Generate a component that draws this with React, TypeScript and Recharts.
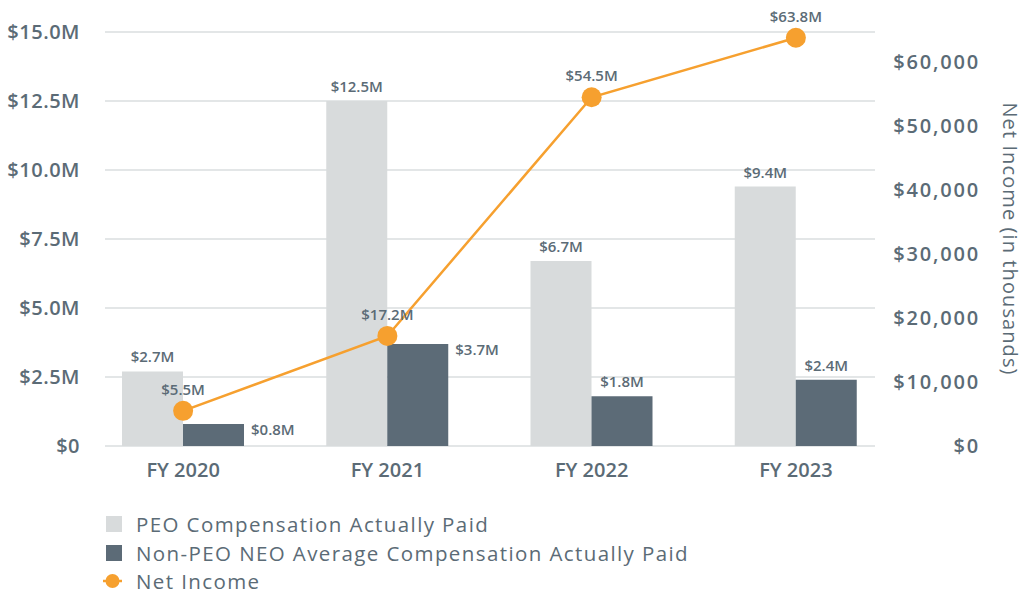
import React from "react";
import {
  ComposedChart,
  Bar,
  Line,
  XAxis,
  YAxis,
  CartesianGrid,
  LabelList,
  Legend,
} from "recharts";

const years = ["FY 2020", "FY 2021", "FY 2022", "FY 2023"];
const peoPaid = [2.7, 12.5, 6.7, 9.4];
const nonPeoPaid = [0.8, 3.7, 1.8, 2.4];
const netIncome = [5500, 17200, 54500, 63800];

const leftTicks = [0, 2.5, 5, 7.5, 10, 12.5, 15];
const rightTicks = [0, 10000, 20000, 30000, 40000, 50000, 60000];

const TEXT = "#5b6b76";
const LIGHT = "#d8dbdc";
const DARK = "#5c6b77";
const ORANGE = "#f6a02f";
const FONT = "'Open Sans', sans-serif";

const data = years.map((year, i) => ({
  year,
  peo: peoPaid[i],
  nonPeo: nonPeoPaid[i],
  income: netIncome[i],
}));

const fmtM = (v: number) => (v === 0 ? "$0" : `$${v.toFixed(1)}M`);
const fmtK = (v: number) => `$${v.toLocaleString("en-US")}`;

// Non-PEO labels: beside the bar for the first two years, above it for the rest
const SideLabel = (props: any) => {
  const { x, y, width, value, index } = props;
  const beside = index < 2;
  return (
    <text
      x={beside ? x + width + 7 : x + width / 2}
      y={beside ? y + 7 : y - 13}
      fill={TEXT}
      fontSize={15}
      fontWeight={600}
      fontFamily={FONT}
      textAnchor={beside ? "start" : "middle"}
      dominantBaseline="middle"
    >
      {fmtM(value)}
    </text>
  );
};

const RightAxisLabel = (props: any) => {
  const { viewBox } = props;
  const cx = viewBox.x + viewBox.width - 15;
  const cy = viewBox.y + viewBox.height / 2;
  return (
    <text
      x={cx}
      y={cy}
      transform={`rotate(90, ${cx}, ${cy})`}
      textAnchor="middle"
      dominantBaseline="middle"
      fill={TEXT}
      fontSize={20}
      letterSpacing={1.1}
      fontFamily={FONT}
    >
      Net Income (in thousands)
    </text>
  );
};

const legendItems = [
  { name: "PEO Compensation Actually Paid", kind: "light" },
  { name: "Non-PEO NEO Average Compensation Actually Paid", kind: "dark" },
  { name: "Net Income", kind: "line" },
];

const LegendContent = () => (
  <div style={{ height: 87, fontFamily: FONT }}>
    {legendItems.map((item) => (
      <div
        key={item.name}
        style={{
          display: "flex",
          alignItems: "center",
          height: 28.5,
          color: TEXT,
          fontSize: 20.5,
          letterSpacing: 1.4,
          whiteSpace: "nowrap",
        }}
      >
        <svg width={26} height={20} style={{ marginRight: 7 }}>
          {item.kind === "line" ? (
            <>
              <line x1={0} y1={10} x2={19} y2={10} stroke={ORANGE} strokeWidth={2.5} />
              <circle cx={9.5} cy={10} r={7} fill={ORANGE} />
            </>
          ) : (
            <rect
              x={3}
              y={2}
              width={16}
              height={16}
              fill={item.kind === "light" ? LIGHT : DARK}
            />
          )}
        </svg>
        <span>{item.name}</span>
      </div>
    ))}
  </div>
);

export default function App() {
  return (
    <div style={{ position: "absolute", left: 0, top: 0, width: 1023, height: 595, background: "#fff" }}>
      <ComposedChart
        width={1023}
        height={595}
        data={data}
        margin={{ top: 32, right: 0, bottom: 0, left: 0 }}
        barGap={0}
      >
        <CartesianGrid
          yAxisId="left"
          vertical={false}
          stroke="#e3e6e7"
          strokeWidth={2}
        />
        <XAxis
          dataKey="year"
          axisLine={false}
          tickLine={false}
          tickSize={0}
          tickMargin={17}
          height={62}
          padding={{ left: -24, right: -23 }}
          tick={{ fill: TEXT, fontSize: 20, fontWeight: 600, fontFamily: FONT }}
        />
        <YAxis
          yAxisId="left"
          domain={[0, 15]}
          ticks={leftTicks}
          tickFormatter={fmtM}
          axisLine={false}
          tickLine={false}
          tickSize={0}
          tickMargin={25}
          width={105}
          tick={{ fill: TEXT, fontSize: 20, fontWeight: 600, fontFamily: FONT, letterSpacing: 0.5 }}
        />
        <YAxis
          yAxisId="right"
          orientation="right"
          domain={[0, 64700]}
          ticks={rightTicks}
          tickFormatter={fmtK}
          axisLine={false}
          tickLine={false}
          tickSize={0}
          tickMargin={105}
          width={148}
          tick={{ fill: TEXT, fontSize: 20, fontWeight: 600, fontFamily: FONT, letterSpacing: 1.8, textAnchor: "end" }}
          label={<RightAxisLabel />}
        />
        <Bar
          yAxisId="left"
          dataKey="peo"
          name="PEO Compensation Actually Paid"
          fill={LIGHT}
          barSize={61}
          isAnimationActive={false}
        >
          <LabelList
            dataKey="peo"
            position="top"
            offset={9}
            formatter={(v: any) => fmtM(Number(v))}
            style={{ fill: TEXT, fontSize: 15, fontWeight: 600, fontFamily: FONT }}
          />
        </Bar>
        <Bar
          yAxisId="left"
          dataKey="nonPeo"
          name="Non-PEO NEO Average Compensation Actually Paid"
          fill={DARK}
          barSize={61}
          isAnimationActive={false}
        >
          <LabelList dataKey="nonPeo" content={<SideLabel />} />
        </Bar>
        <Line
          yAxisId="right"
          dataKey="income"
          name="Net Income"
          stroke={ORANGE}
          strokeWidth={2.5}
          dot={{ r: 10, fill: ORANGE, stroke: "none" }}
          activeDot={false}
          isAnimationActive={false}
        >
          <LabelList
            dataKey="income"
            position="top"
            offset={16}
            formatter={(v: any) => `$${(Number(v) / 1000).toFixed(1)}M`}
            style={{ fill: TEXT, fontSize: 15, fontWeight: 600, fontFamily: FONT }}
          />
        </Line>
        <Legend
          layout="horizontal"
          verticalAlign="bottom"
          align="left"
          content={<LegendContent />}
          wrapperStyle={{ left: 103, top: 510, width: 760 }}
        />
      </ComposedChart>
    </div>
  );
}
